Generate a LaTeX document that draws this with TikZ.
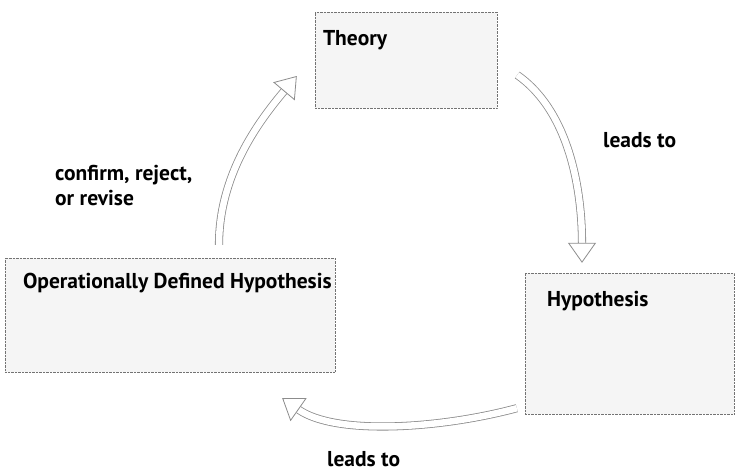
\documentclass[tikz,border=0pt]{standalone}
\usepackage{fontspec}
\setmainfont{PT Sans}
\usetikzlibrary{arrows.meta,positioning}

\begin{document}
\begin{tikzpicture}[
    x=1pt, y=1pt,
    font=\fontsize{21.5}{25}\selectfont\bfseries,
    stipbox/.style={
        draw=black!55,
        densely dotted,
        fill=black!4,
        inner sep=0pt
    },
    boxtext/.style={anchor=base west, inner sep=0pt},
    hollow/.style={
        draw=black!45,
        line width=0.8pt,
        double=white,
        double distance=6.5pt,
        -{Triangle[open, fill=white, line width=0.8pt, length=20pt, width=28pt]}
    }
]
    \useasboundingbox (0,0) rectangle (735,472);

    % boxes
    \node[stipbox, minimum width=182pt, minimum height=96pt] (theory) at (406,412) {};
    \node[stipbox, minimum width=209pt, minimum height=141pt] (hyp) at (629.5,128.5) {};
    \node[stipbox, minimum width=330pt, minimum height=114pt] (opdef) at (170,157) {};

    \node[boxtext] (theorytxt) at ([shift={(8,-34)}]theory.north west) {Theory};
    \node[boxtext] (hyptxt) at ([shift={(22,-34)}]hyp.north west) {Hypothesis};
    \node[boxtext] (opdeftxt) at ([shift={(18,-31)}]opdef.north west) {Operationally Defined Hypothesis};

    % cycle
    \draw[hollow] ([shift={(20,-15)}]theory.east) .. controls +(-35:65) and +(90:70) .. ([shift={(-47.5,10)}]hyp.north);
    \draw[hollow] ([shift={(-8,6)}]hyp.south west) .. controls +(195:80) and +(-35:65) .. ([shift={(-53,-26)}]opdef.south east);
    \draw[hollow] ([shift={(49,13)}]opdef.north) .. controls +(90:70) and +(-130:60) .. ([shift={(-18,-16)}]theory.west);

    \node[anchor=base west, inner sep=0pt] (leadsone) at (603,325) {leads to};
    \node[anchor=base west, inner sep=0pt] (leadstwo) at (327,6) {leads to};
    \node[anchor=north west, inner sep=0pt, align=left] (revise) at (55,307) {confirm, reject,\\or revise};
\end{tikzpicture}
\end{document}
